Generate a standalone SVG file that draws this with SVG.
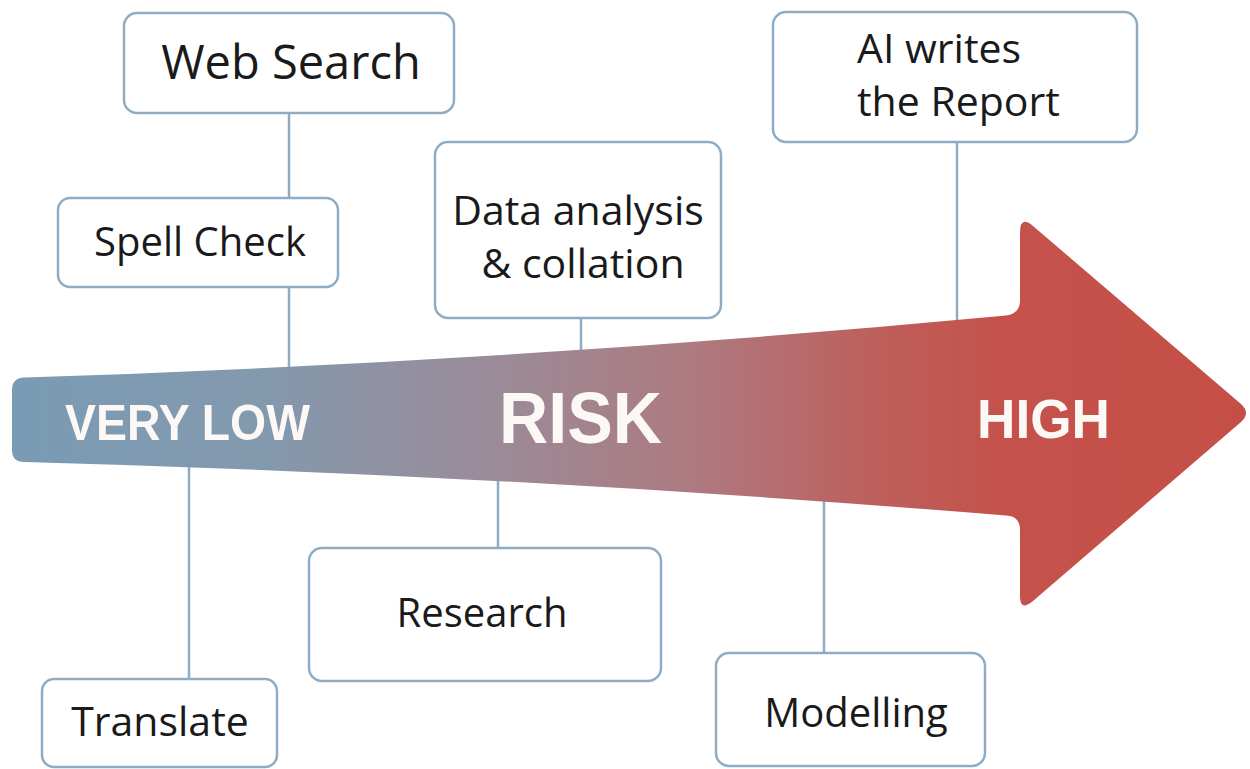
<svg xmlns="http://www.w3.org/2000/svg" width="1250" height="769" viewBox="0 0 1250 769">
  <defs>
    <linearGradient id="riskGrad" gradientUnits="userSpaceOnUse" x1="12" y1="0" x2="1250" y2="0">
      <stop offset="0" stop-color="#7a9bb4"/>
      <stop offset="0.2" stop-color="#8399ae"/>
      <stop offset="0.4" stop-color="#9c8a97"/>
      <stop offset="0.55" stop-color="#ad7a80"/>
      <stop offset="0.7" stop-color="#bd5f5b"/>
      <stop offset="0.8" stop-color="#c4524b"/>
      <stop offset="1" stop-color="#c54f47"/>
    </linearGradient>
  </defs>
  <style>
    .box { fill: #ffffff; stroke: #8eadc5; stroke-width: 2.5; }
    .link { stroke: #8eadc5; stroke-width: 2.5; fill: none; }
    .label { font-family: "Open Sans", "Noto Sans", sans-serif; fill: #1a1a1a; }
    .scale { font-family: "Liberation Sans", Arial, sans-serif; font-weight: bold; fill: #fbf8f6; }
  </style>

  <!-- connectors: drawn first so the arrow covers their ends -->
  <g id="connectors">
    <line class="link" x1="289" y1="113" x2="289" y2="198"/>
    <line class="link" x1="289" y1="287" x2="289" y2="385"/>
    <line class="link" x1="189" y1="450" x2="189" y2="679"/>
    <line class="link" x1="581" y1="318" x2="581" y2="370"/>
    <line class="link" x1="498" y1="465" x2="498" y2="548"/>
    <line class="link" x1="957" y1="142" x2="957" y2="335"/>
    <line class="link" x1="824" y1="490" x2="824" y2="653"/>
  </g>

  <!-- risk arrow -->
  <g id="risk-arrow">
    <path fill="url(#riskGrad)" d="M 12,390 Q 12,378 24,377.5 Q 511,362 1006,315.5 Q 1020,314 1020,300 L 1020,233 Q 1020,215 1033,226 L 1241,404 Q 1251,413 1241,422 L 1033,601 Q 1020,612 1020,596 L 1020,530 Q 1020,516 1006,515.5 Q 511,475 24,462 Q 12,462 12,450 Z"/>
    <text class="scale" x="65" y="440" font-size="50" textLength="245" lengthAdjust="spacingAndGlyphs">VERY LOW</text>
    <text class="scale" x="499" y="443" font-size="72" textLength="163" lengthAdjust="spacingAndGlyphs">RISK</text>
    <text class="scale" x="977" y="438" font-size="55" textLength="133" lengthAdjust="spacingAndGlyphs">HIGH</text>
  </g>

  <g id="web-search">
    <rect class="box" x="124" y="13" width="330" height="100" rx="13"/>
    <text class="label" x="291" y="79" font-size="47" text-anchor="middle">Web Search</text>
  </g>

  <g id="spell-check">
    <rect class="box" x="58" y="198" width="280" height="89" rx="12"/>
    <text class="label" x="200" y="256" font-size="40" text-anchor="middle">Spell Check</text>
  </g>

  <g id="translate">
    <rect class="box" x="42" y="679" width="235" height="88" rx="12"/>
    <text class="label" x="160" y="736" font-size="41" text-anchor="middle">Translate</text>
  </g>

  <g id="data-analysis">
    <rect class="box" x="435" y="142" width="286" height="176" rx="13"/>
    <text class="label" x="578" y="225" font-size="41" text-anchor="middle">Data analysis</text>
    <text class="label" x="583" y="278" font-size="41" text-anchor="middle">&amp; collation</text>
  </g>

  <g id="research">
    <rect class="box" x="309" y="548" width="352" height="133" rx="13"/>
    <text class="label" x="482" y="627" font-size="40" text-anchor="middle">Research</text>
  </g>

  <g id="ai-report">
    <rect class="box" x="773" y="12" width="364" height="130" rx="13"/>
    <text class="label" x="857" y="63" font-size="41">AI writes</text>
    <text class="label" x="857" y="116" font-size="41">the Report</text>
  </g>

  <g id="modelling">
    <rect class="box" x="716" y="653" width="269" height="113" rx="13"/>
    <text class="label" x="856" y="727" font-size="40" text-anchor="middle">Modelling</text>
  </g>
</svg>
